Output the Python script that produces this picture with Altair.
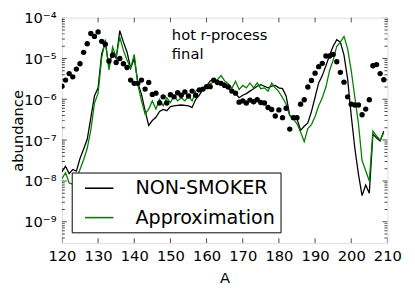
import altair as alt
import pandas as pd

# mass numbers
mass = list(range(120, 210))

# log10 of abundances
solar_log10 = [
    -5.68, -5.53, -5.37, -5.45, -5.26, -5.13, -4.85, -4.64, -4.39, -4.46,
    -4.35, -4.58, -4.65, -5.06, -4.92, -5.10, -5.00, -5.13, -5.22, -5.53,
    -5.61, -5.61, -5.53, -5.75, -5.59, -5.88, -5.85, -6.09, -5.94, -6.09,
    -5.89, -5.94, -5.84, -5.90, -5.82, -5.92, -5.80, -5.90, -5.77, -5.75,
    -5.69, -5.69, -5.53, -5.59, -5.61, -5.66, -5.70, -5.80, -5.85, -6.07,
    -6.04, -6.09, -6.02, -6.06, -6.01, -6.08, -6.09, -6.20, -6.25, -6.41,
    -6.26, -6.45, -6.22, -6.73, -6.45, -6.45, -6.12, -6.01, -5.70, -5.54,
    -5.36, -5.20, -5.12, -4.94, -4.94, -4.90, -5.08, -5.34, -5.58, -5.94,
    -6.12, -6.14, -6.14, -6.38, -6.24, -6.01, -5.18, -5.15, -5.37, -5.52,
]

nonsmoker_log10 = [
    -7.78, -7.64, -7.82, -7.72, -7.76, -7.45, -7.22, -6.98, -6.45, -5.92,
    -5.72, -4.88, -4.62, -5.20, -4.84, -5.00, -4.32, -4.60, -4.84, -5.24,
    -5.00, -5.60, -5.88, -6.28, -6.64, -6.52, -6.44, -6.30, -6.25, -6.28,
    -6.18, -6.16, -6.15, -6.14, -6.15, -6.16, -6.20, -6.00, -5.90, -5.76,
    -5.68, -5.55, -5.50, -5.56, -5.64, -5.60, -5.70, -5.82, -5.86, -5.96,
    -5.90, -5.86, -5.80, -5.74, -5.68, -5.64, -5.68, -5.72, -5.68, -5.66,
    -5.72, -5.74, -5.92, -6.40, -6.44, -6.48, -6.76, -6.66, -6.58, -6.30,
    -5.95, -5.60, -5.42, -5.18, -4.92, -4.70, -4.54, -4.60, -4.92, -5.50,
    -6.40, -7.20, -7.84, -8.36, -8.10, -8.30, -6.85, -6.95, -7.02, -6.78,
]

approx_log10 = [
    -7.95, -7.80, -8.05, -8.08, -7.95, -7.72, -7.48, -7.20, -6.75, -6.10,
    -5.85, -4.98, -4.54, -5.28, -4.72, -4.96, -4.48, -4.80, -5.04, -5.24,
    -4.90, -5.64, -6.04, -6.36, -6.24, -6.04, -6.24, -6.00, -6.16, -5.96,
    -6.08, -5.92, -6.04, -5.96, -6.04, -5.92, -6.04, -5.80, -5.74, -5.73,
    -5.70, -5.62, -5.58, -5.52, -5.42, -5.55, -5.62, -5.73, -5.56, -5.76,
    -5.66, -5.72, -5.60, -5.72, -5.60, -5.74, -5.72, -5.80, -5.60, -5.72,
    -5.82, -5.96, -6.12, -6.40, -6.48, -6.60, -6.80, -7.04, -6.72, -6.62,
    -6.42, -6.16, -5.96, -5.70, -5.30, -5.04, -4.70, -4.60, -4.46, -4.76,
    -5.30, -5.95, -6.60, -7.50, -7.75, -8.00, -6.78, -6.90, -7.00, -6.82,
]

series_names = ["NON-SMOKER", "Approximation"]
series_colors = ["#000000", "#008000"]

annot_text = ["hot r-process", "final"]
annot_x = [150.4, 150.4]
annot_y = [3.7e-5, 1.3e-5]

x_tick_values = [120, 130, 140, 150, 160, 170, 180, 190, 200, 210]
y_major = [1e-9, 1e-8, 1e-7, 1e-6, 1e-5, 1e-4]
y_minor = [m * 10.0 ** k for k in range(-10, -4) for m in range(2, 10)
           if 3e-10 < m * 10.0 ** k < 1e-4]

W, H = 332, 230
FONT = "DejaVu Sans"

lines_df = pd.DataFrame({
    "A": mass * 2,
    "value": [10 ** v for v in nonsmoker_log10] + [10 ** v for v in approx_log10],
    "series": [series_names[0]] * len(mass) + [series_names[1]] * len(mass),
})
dots_df = pd.DataFrame({"A": mass, "value": [10 ** v for v in solar_log10]})
annot_df = pd.DataFrame({"A": annot_x, "value": annot_y, "label": annot_text})
ytick_df = pd.DataFrame({
    "value": y_major + y_minor,
    "len": [10] * len(y_major) + [6] * len(y_minor),
})
xtick_df = pd.DataFrame({"A": x_tick_values, "len": [10] * len(x_tick_values)})

xscale = alt.Scale(domain=[120, 210], nice=False, zero=False)
yscale = alt.Scale(type="log", domain=[3e-10, 1e-4], nice=False)

xaxis = alt.Axis(values=x_tick_values, ticks=False, domain=False, grid=False,
                 labelFontSize=15, labelFont=FONT, labelColor="black",
                 labelPadding=6, labelFlush=False, labelOverlap=False,
                 title="A", titleFontSize=15, titleFont=FONT,
                 titleFontWeight="normal", titleColor="black", titlePadding=7)
yaxis = alt.Axis(values=y_major, ticks=False, domain=False, grid=False,
                 labelExpr="'10⁻' + ['','¹','²','³','⁴','⁵','⁶','⁷','⁸','⁹'][round(-log(datum.value)/LN10)]",
                 labelFontSize=15, labelFont=FONT, labelColor="black",
                 labelPadding=6, labelOverlap=False, labelFlush=False,
                 title="abundance", titleFontSize=15, titleFont=FONT,
                 titleFontWeight="normal", titleColor="black",
                 titleX=-37, titleY=H / 2, titleAngle=270,
                 titleBaseline="bottom", titleAlign="center")

X = alt.X("A:Q", scale=xscale, axis=xaxis)
Y = alt.Y("value:Q", scale=yscale, axis=yaxis)

legend = alt.Legend(
    title=None, orient="none", legendX=10, legendY=158, direction="vertical",
    symbolType="M-1.45,0H1.45", symbolSize=400, symbolStrokeWidth=1.6,
    symbolFillColor="transparent",
    labelFontSize=19.5, labelFont=FONT, labelColor="black",
    fillColor="white", strokeColor="black", padding=5, rowPadding=9,
    labelOffset=26, symbolOffset=12, cornerRadius=0, labelLimit=0,
)
color = alt.Color("series:N", scale=alt.Scale(domain=series_names, range=series_colors),
                  legend=legend)

black_line = alt.Chart(lines_df).transform_filter(
    alt.datum.series == series_names[0]
).mark_line(strokeWidth=1.3, clip=True).encode(x=X, y=Y, color=color)

green_line = alt.Chart(lines_df).transform_filter(
    alt.datum.series == series_names[1]
).mark_line(strokeWidth=1.3, clip=True).encode(x=X, y=Y, color=color)

dots = alt.Chart(dots_df).mark_circle(size=30, color="black", opacity=1, clip=True).encode(x=X, y=Y)

annot = alt.Chart(annot_df).mark_text(
    align="left", baseline="middle", fontSize=15, font=FONT, color="black"
).encode(x=X, y=Y, text="label:N")

yticks_left = alt.Chart(ytick_df).mark_tick(
    orient="horizontal", clip=True, color="black", thickness=1
).encode(y=Y, x=alt.value(0), size=alt.Size("len:Q", scale=None))
yticks_right = alt.Chart(ytick_df).mark_tick(
    orient="horizontal", clip=True, color="black", thickness=1
).encode(y=Y, x=alt.value(W), size=alt.Size("len:Q", scale=None))
xticks_bottom = alt.Chart(xtick_df).mark_tick(
    orient="vertical", clip=True, color="black", thickness=1
).encode(x=X, y=alt.value(H), size=alt.Size("len:Q", scale=None))
xticks_top = alt.Chart(xtick_df).mark_tick(
    orient="vertical", clip=True, color="black", thickness=1
).encode(x=X, y=alt.value(0), size=alt.Size("len:Q", scale=None))

chart = alt.layer(
    black_line, green_line, dots, annot,
    yticks_left, yticks_right, xticks_bottom, xticks_top,
).properties(
    width=W, height=H,
    autosize=alt.AutoSizeParams(type="none"),
    padding={"left": 55, "top": 7, "right": 20, "bottom": 45},
).configure_view(
    stroke="black", strokeWidth=1
).configure(background="white")

chart.save("out.html", embed_options={"renderer": "svg", "actions": False})
